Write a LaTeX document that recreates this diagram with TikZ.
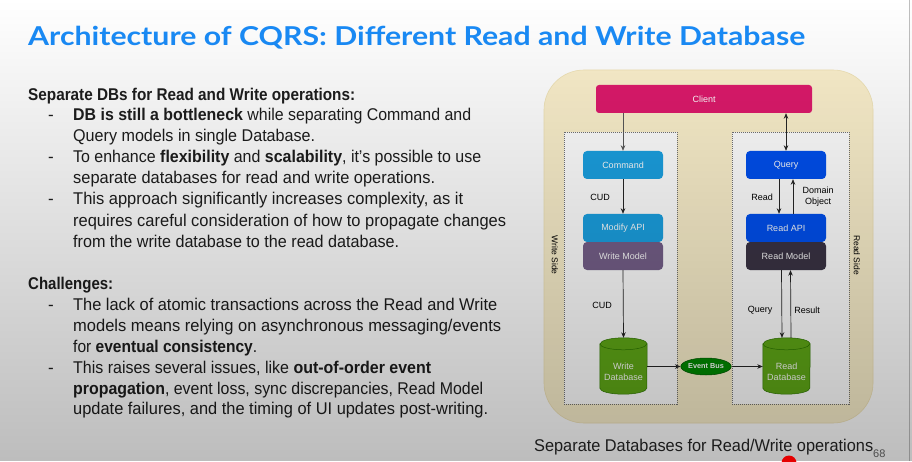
\documentclass[tikz,border=0pt]{standalone}
\usepackage{fontspec}
\usepackage{graphicx}
\setmainfont{Liberation Sans}
\newfontfamily\titlefont{Lato}
\usetikzlibrary{arrows.meta,shapes.geometric,fadings}

\definecolor{titleblue}{HTML}{1A8CF8}
\definecolor{bodyink}{HTML}{1E1E1E}
\definecolor{frameFill}{HTML}{FBF0CC}
\definecolor{frameLine}{HTML}{F0E3B6}
\definecolor{clientPink}{HTML}{DE1A6C}
\definecolor{cmdBlue}{HTML}{1BA1E2}
\definecolor{qryBlue}{HTML}{0050EF}
\definecolor{writeMauve}{HTML}{76608A}
\definecolor{readDark}{HTML}{3B3445}
\definecolor{dbGreen}{HTML}{60A917}
\definecolor{dbEdge}{HTML}{2D7600}
\definecolor{busGreen}{HTML}{008A00}
\definecolor{busEdge}{HTML}{005700}

% scale a piece of text horizontally to a given width (in pt)
\newlength\fitlen
\newcommand\fitto[2]{\settowidth\fitlen{#2}\edef\fitratio{\fpeval{#1/\fitlen}}\scalebox{\fitratio}[1]{#2}}

% cylinder drawn around an (invisible) node
\newcommand\drawdb[1]{%
  \filldraw[fill=dbGreen, draw=dbEdge, line width=0.5pt]
    ([yshift=-6pt]#1.north west) -- ([yshift=6pt]#1.south west)
    arc[start angle=180, end angle=360, x radius=23.5pt, y radius=6pt]
    -- ([yshift=-6pt]#1.north east)
    arc[start angle=0, end angle=180, x radius=23.5pt, y radius=6pt] -- cycle;
  \draw[dbEdge, line width=0.5pt] ([yshift=-6pt]#1.north west)
    arc[start angle=180, end angle=360, x radius=23.5pt, y radius=6pt];}

\tikzfading[name=shadowfade, top color=transparent!100, middle color=transparent!100, bottom color=transparent!74]

\tikzset{
  bodytxt/.style={anchor=base west, inner sep=0pt, text=bodyink, font=\fontsize{17}{20}\selectfont},
  titletxt/.style={anchor=base west, inner sep=0pt, text=titleblue, font=\titlefont\bfseries\fontsize{26}{30}\selectfont},
  box/.style={rounded corners=4pt, minimum width=80pt, minimum height=28pt, inner sep=0pt, text=white, font=\fontsize{9}{11}\selectfont},
  side/.style={draw=black!55, dash pattern=on 1pt off 1pt, line width=0.5pt, fill=white, minimum height=272pt, inner sep=0pt},
  dbnode/.style={minimum width=47pt, minimum height=56pt, inner sep=0pt},
  dbtext/.style={align=center, text=white, inner sep=0pt, font=\fontsize{9}{11}\selectfont},
  lbl/.style={inner sep=0pt, text=black, font=\fontsize{9}{11}\selectfont},
  conn/.style={-{Stealth[length=5.5pt,width=4.5pt]}, line width=0.7pt, draw=black!85},
  conn2/.style={{Stealth[length=5.5pt,width=4.5pt]}-{Stealth[length=5.5pt,width=4.5pt]}, line width=0.7pt, draw=black!85}
}

\begin{document}
\begin{tikzpicture}[x=1pt,y=1pt]
\useasboundingbox (0,0) rectangle (912,461);
\fill[white] (0,0) rectangle (912,461);

% ---- title ----
\node[titletxt] (title) at (28,415) {\fitto{777}{Architecture of CQRS: Different Read and Write Database}};

% ---- left column text ----
\node[bodytxt] (h1) at (28,360.5) {\fitto{327}{\textbf{Separate DBs for Read and Write operations:}}};
\node[bodytxt] (d1) at (48,340) {-};
\node[bodytxt] (t1) at (73,340) {\fitto{398}{\textbf{DB is still a bottleneck} while separating Command and}};
\node[bodytxt] (t2) at (73,319) {\fitto{242}{Query models in single Database.}};
\node[bodytxt] (d2) at (48,298) {-};
\node[bodytxt] (t3) at (73,298) {\fitto{408}{To enhance \textbf{flexibility} and \textbf{scalability}, it's possible to use}};
\node[bodytxt] (t4) at (73,277) {\fitto{362}{separate databases for read and write operations.}};
\node[bodytxt] (d3) at (48,256) {-};
\node[bodytxt] (t5) at (73,256) {\fitto{390}{This approach significantly increases complexity, as it}};
\node[bodytxt] (t6) at (73,235) {\fitto{433}{requires careful consideration of how to propagate changes}};
\node[bodytxt] (t7) at (73,214) {\fitto{326}{from the write database to the read database.}};

\node[bodytxt] (h2) at (28,171.5) {\fitto{85}{\textbf{Challenges:}}};
\node[bodytxt] (d4) at (48,150.5) {-};
\node[bodytxt] (t8) at (73,150.5) {\fitto{424}{The lack of atomic transactions across the Read and Write}};
\node[bodytxt] (t9) at (73,129.5) {\fitto{428}{models means relying on asynchronous messaging/events}};
\node[bodytxt] (t10) at (73,108.5) {\fitto{184}{for \textbf{eventual consistency}.}};
\node[bodytxt] (d5) at (48,87.5) {-};
\node[bodytxt] (t11) at (73,87.5) {\fitto{358}{This raises several issues, like \textbf{out-of-order event}}};
\node[bodytxt] (t12) at (73,67) {\fitto{410}{\textbf{propagation}, event loss, sync discrepancies, Read Model}};
\node[bodytxt] (t13) at (73,46.5) {\fitto{415}{update failures, and the timing of UI updates post-writing.}};

% ---- diagram ----
\node[draw=frameLine, line width=0.6pt, fill=frameFill, rounded corners=40pt,
      minimum width=329pt, minimum height=353pt, inner sep=0pt] (frame) at (708.5,214.5) {};
\node[side, minimum width=113pt] (wside) at (620.5,193) {};
\node[side, minimum width=117pt] (rside) at (790.5,193) {};

\node[box, fill=clientPink, minimum width=216pt, rounded corners=3pt] (client) at (704,362) {Client};

\node[box, fill=cmdBlue] (cmd) at (623,296) {Command};
\node[box, fill=cmdBlue] (modapi) at (623,233) {Modify API};
\node[box, fill=writeMauve] (wmodel) at (623,205) {Write Model};

\node[box, fill=qryBlue] (query) at (786,296) {Query};
\node[box, fill=qryBlue] (rapi) at (786,233) {Read API};
\node[box, fill=readDark] (rmodel) at (786,205) {Read Model};

\node[dbnode] (wdb) at (623.5,95) {};
\node[dbnode] (rdb) at (786.5,95) {};
\drawdb{wdb}
\drawdb{rdb}
\node[dbtext] (wdbl) at ([yshift=-6pt]wdb.center) {Write\\Database};
\node[dbtext] (rdbl) at ([yshift=-6pt]rdb.center) {Read\\Database};

\node[ellipse, fill=busGreen, draw=busEdge, line width=0.5pt, minimum width=46pt, minimum height=17pt,
      inner sep=0pt, text=white, font=\bfseries\fontsize{7.3}{8}\selectfont] (ebus) at (706,94.5) {Event Bus};

% side captions
\node[lbl, rotate=-90, font=\fontsize{8.5}{10}\selectfont] (wsl) at (555,206) {Write Side};
\node[lbl, rotate=-90, font=\fontsize{8.5}{10}\selectfont] (rsl) at (857,206) {Read Side};

% connectors
\draw[conn, draw=black!65] (client.south -| cmd.north) -- (cmd.north);
\draw[conn2] (client.south -| query.north) -- (query.north);
\draw[conn] (cmd.south) -- (modapi.north);
\draw[conn] ([xshift=-7pt]query.south) -- ([xshift=-7pt]rapi.north);
\draw[conn] ([xshift=7pt]rapi.north) -- ([xshift=7pt]query.south);
\draw[conn] (wmodel.south) -- (wdb.north);
\draw[conn] ([xshift=-4.5pt]rmodel.south) -- ([xshift=-4.5pt]rdb.north);
\draw[conn] ([xshift=4.5pt]rdb.north) -- ([xshift=4.5pt]rmodel.south);
\draw[conn] (ebus.west -| wdb.east) -- (ebus.west);
\draw[conn] (ebus.east) -- (ebus.east -| rdb.west);

% connector labels
\node[lbl] (lcud1) at (600,264) {CUD};
\node[lbl] (lread) at (762,264) {Read};
\node[lbl, align=center, font=\fontsize{9}{11}\selectfont] (ldom) at (818,264) {Domain\\Object};
\node[lbl] (lcud2) at (602,156) {CUD};
\node[lbl] (lqry) at (760,151) {Query};
\node[lbl] (lres) at (807,151) {Result};

% caption and page number
\node[bodytxt, text=black!85] (cap) at (534,9.5) {\fitto{339}{Separate Databases for Read/Write operations}};
\node[anchor=base west, inner sep=0pt, text=black!60, font=\fontsize{11}{12}\selectfont] (pnum) at (873,4) {68};

% slide edge
\draw[black!25, line width=0.8pt] (909.5,0) -- (909.5,461);

% darkening towards the bottom
\fill[black, path fading=shadowfade] (0,0) rectangle (912,461);

% progress marker
\fill[red!90!black] (789,-2) circle (7.5);
\end{tikzpicture}
\end{document}
